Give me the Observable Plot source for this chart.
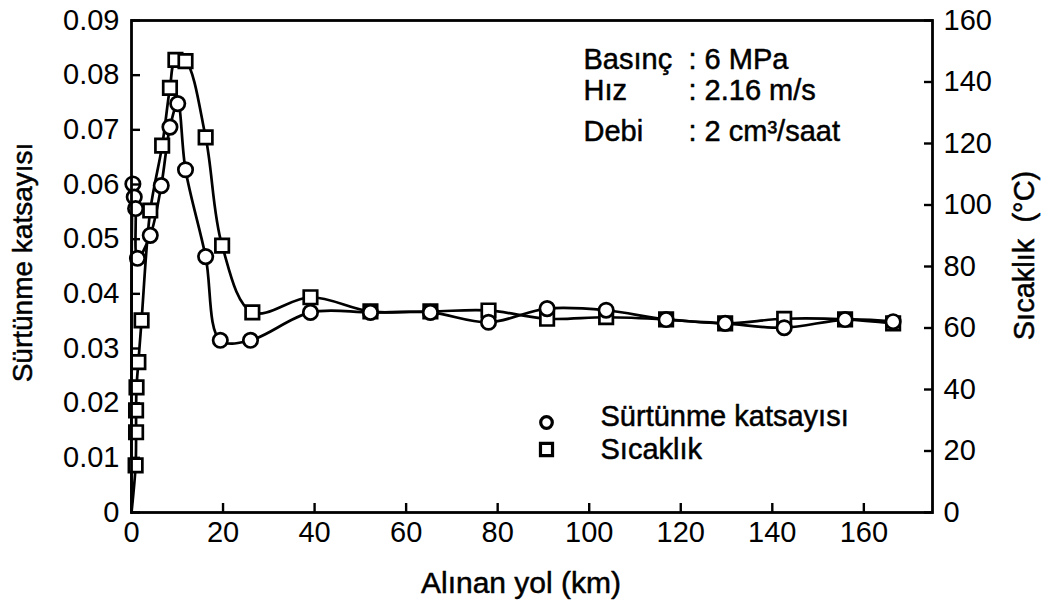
<!DOCTYPE html>
<html>
<head>
<meta charset="utf-8">
<script src="https://cdn.jsdelivr.net/npm/d3@7"></script>
<script src="https://cdn.jsdelivr.net/npm/@observablehq/plot@0.6"></script>
<style>
  html, body { margin: 0; padding: 0; background: #fff; }
  #chart { width: 1050px; height: 609px; }
</style>
</head>
<body>
<div id="chart"></div>
<script>
// Friction coefficient (Sürtünme katsayısı) vs distance (km)
const frictionKm  = [0, 0.3, 0.6, 0.9, 1.3, 4.1, 6.5, 8.4, 10.1, 11.8, 16.2, 19.4, 26.0, 39.1, 52.2, 65.3, 78.0, 90.8, 103.7, 116.8, 129.7, 142.6, 155.9, 166.4];
const frictionVal = [0, 0.0601, 0.0577, 0.0556, 0.0465, 0.0507, 0.0598, 0.0705, 0.0748, 0.0627, 0.0468, 0.0315, 0.0315, 0.0366, 0.0366, 0.0366, 0.0348, 0.0373, 0.0370, 0.0353, 0.0346, 0.0338, 0.0353, 0.0349];

// Temperature (Sıcaklık, °C) vs distance (km)
const tempKm  = [0, 0.9, 1.0, 1.0, 1.1, 1.5, 2.2, 4.1, 6.7, 8.4, 9.6, 11.8, 16.2, 19.8, 26.4, 39.1, 52.2, 65.3, 78.0, 90.8, 103.7, 116.8, 129.7, 142.6, 155.9, 166.4];
const tempVal = [0, 15.3, 26.1, 33.2, 40.7, 48.9, 62.5, 98.2, 119.3, 138.1, 147.2, 146.8, 122.0, 86.8, 65.1, 70.0, 65.4, 65.4, 65.7, 63.0, 63.5, 62.8, 61.5, 63.0, 62.8, 61.5];

// Axes
const xTicks = [0, 20, 40, 60, 80, 100, 120, 140, 160];
const xDomain = [0, 175];
const frictionTicks = [0, 0.01, 0.02, 0.03, 0.04, 0.05, 0.06, 0.07, 0.08, 0.09];
const frictionDomain = [0, 0.09];
const tempTicks = [0, 20, 40, 60, 80, 100, 120, 140, 160];
const tempMax = 160;

// Texts
const xTitle = "Alınan yol (km)";
const yLeftTitle = "Sürtünme katsayısı";
const yRightTitle = "Sıcaklık  (°C)";
const infoLabels = ["Basınç", "Hız", "Debi"];
const infoValues = [": 6 MPa", ": 2.16 m/s", ": 2 cm³/saat"];
const legendLabels = ["Sürtünme katsayısı", "Sıcaklık"];
const legendSymbols = ["circle", "square"];

const k = frictionDomain[1] / tempMax; // temperature -> left-axis units

const friction = frictionKm.map((x, i) => ({x, y: frictionVal[i]}));
const temp = tempKm.map((x, i) => ({x, y: tempVal[i] * k}));

const font = "'Liberation Sans', Arial, sans-serif";
const sw = 2.7;
const tickLen = 9;
const heavy = {fill: "black", stroke: "black", strokeWidth: 0.5};

const infoRowDy = [39, 70, 111];
const legendRowDy = [396, 429];
const legendSymDy = [402, 429];

const marks = [
  // lines
  Plot.line(temp, {x: "x", y: "y", curve: "catmull-rom", stroke: "black", strokeWidth: sw}),
  Plot.line(friction, {x: "x", y: "y", curve: "catmull-rom", stroke: "black", strokeWidth: sw}),
  // markers (origin is only the line start)
  Plot.dot(temp.slice(1), {x: "x", y: "y", symbol: "square", r: 7.6, stroke: "black", strokeWidth: sw, fill: "white"}),
  Plot.dot(friction.slice(1), {x: "x", y: "y", symbol: "circle", r: 7.2, stroke: "black", strokeWidth: sw, fill: "white"}),
  // inward ticks
  Plot.axisX(xTicks, {anchor: "bottom", text: null, tickSize: tickLen, dy: -tickLen, strokeWidth: 2.4, label: null}),
  Plot.axisY(frictionTicks, {anchor: "left", text: null, tickSize: tickLen, dx: tickLen, strokeWidth: 2.4, label: null}),
  Plot.axisY(tempTicks.map(t => t * k), {anchor: "right", text: null, tickSize: tickLen, dx: -tickLen, strokeWidth: 2.4, label: null}),
  // tick labels
  Plot.axisX(xTicks, {anchor: "bottom", tickSize: 0, tickPadding: 9, fontSize: 29, label: null, ...heavy}),
  Plot.axisY(frictionTicks, {anchor: "left", tickSize: 0, tickPadding: 12, fontSize: 29, label: null, ...heavy, tickFormat: d => d === 0 ? "0" : d3.format(".2f")(d)}),
  Plot.axisY(tempTicks.map(t => t * k), {anchor: "right", tickSize: 0, tickPadding: 11, fontSize: 29, label: null, ...heavy, tickFormat: d => String(Math.round(d / k))}),
  Plot.frame({stroke: "black", strokeWidth: 2.8}),
  // axis titles
  Plot.text([xTitle], {frameAnchor: "bottom", textAnchor: "middle", lineAnchor: "middle", dx: -11, dy: 71, fontSize: 30, fontFamily: font, ...heavy}),
  Plot.text([yLeftTitle], {frameAnchor: "left", textAnchor: "middle", lineAnchor: "middle", dx: -108, dy: -4, rotate: -90, fontSize: 28, fontFamily: font, ...heavy}),
  Plot.text([yRightTitle], {frameAnchor: "right", textAnchor: "middle", lineAnchor: "middle", dx: 92, dy: -11, rotate: -90, fontSize: 29, fontFamily: font, ...heavy}),
  // info block
  ...infoLabels.map((t, i) => Plot.text([t], {frameAnchor: "top-left", textAnchor: "start", lineAnchor: "middle", dx: 452, dy: infoRowDy[i], fontSize: 29, fontFamily: font, ...heavy})),
  ...infoValues.map((t, i) => Plot.text([t], {frameAnchor: "top-left", textAnchor: "start", lineAnchor: "middle", dx: 557, dy: infoRowDy[i], fontSize: 29, fontFamily: font, ...heavy})),
  // legend
  ...legendSymbols.map((s, i) => Plot.dot([s], {frameAnchor: "top-left", dx: 415, dy: legendSymDy[i], symbol: s, r: s === "circle" ? 5.8 : 6.8, stroke: "black", strokeWidth: 3.2, fill: "white"})),
  ...legendLabels.map((t, i) => Plot.text([t], {frameAnchor: "top-left", textAnchor: "start", lineAnchor: "middle", dx: 469, dy: legendRowDy[i], fontSize: 29, fontFamily: font, ...heavy}))
];

const chart = Plot.plot({
  width: 1050,
  height: 609,
  marginLeft: 131,
  marginRight: 118,
  marginTop: 20,
  marginBottom: 97,
  x: {domain: xDomain},
  y: {domain: frictionDomain},
  style: {fontFamily: font, color: "black", background: "white", overflow: "visible"},
  marks
});
document.getElementById("chart").appendChild(chart);
</script>
</body>
</html>
